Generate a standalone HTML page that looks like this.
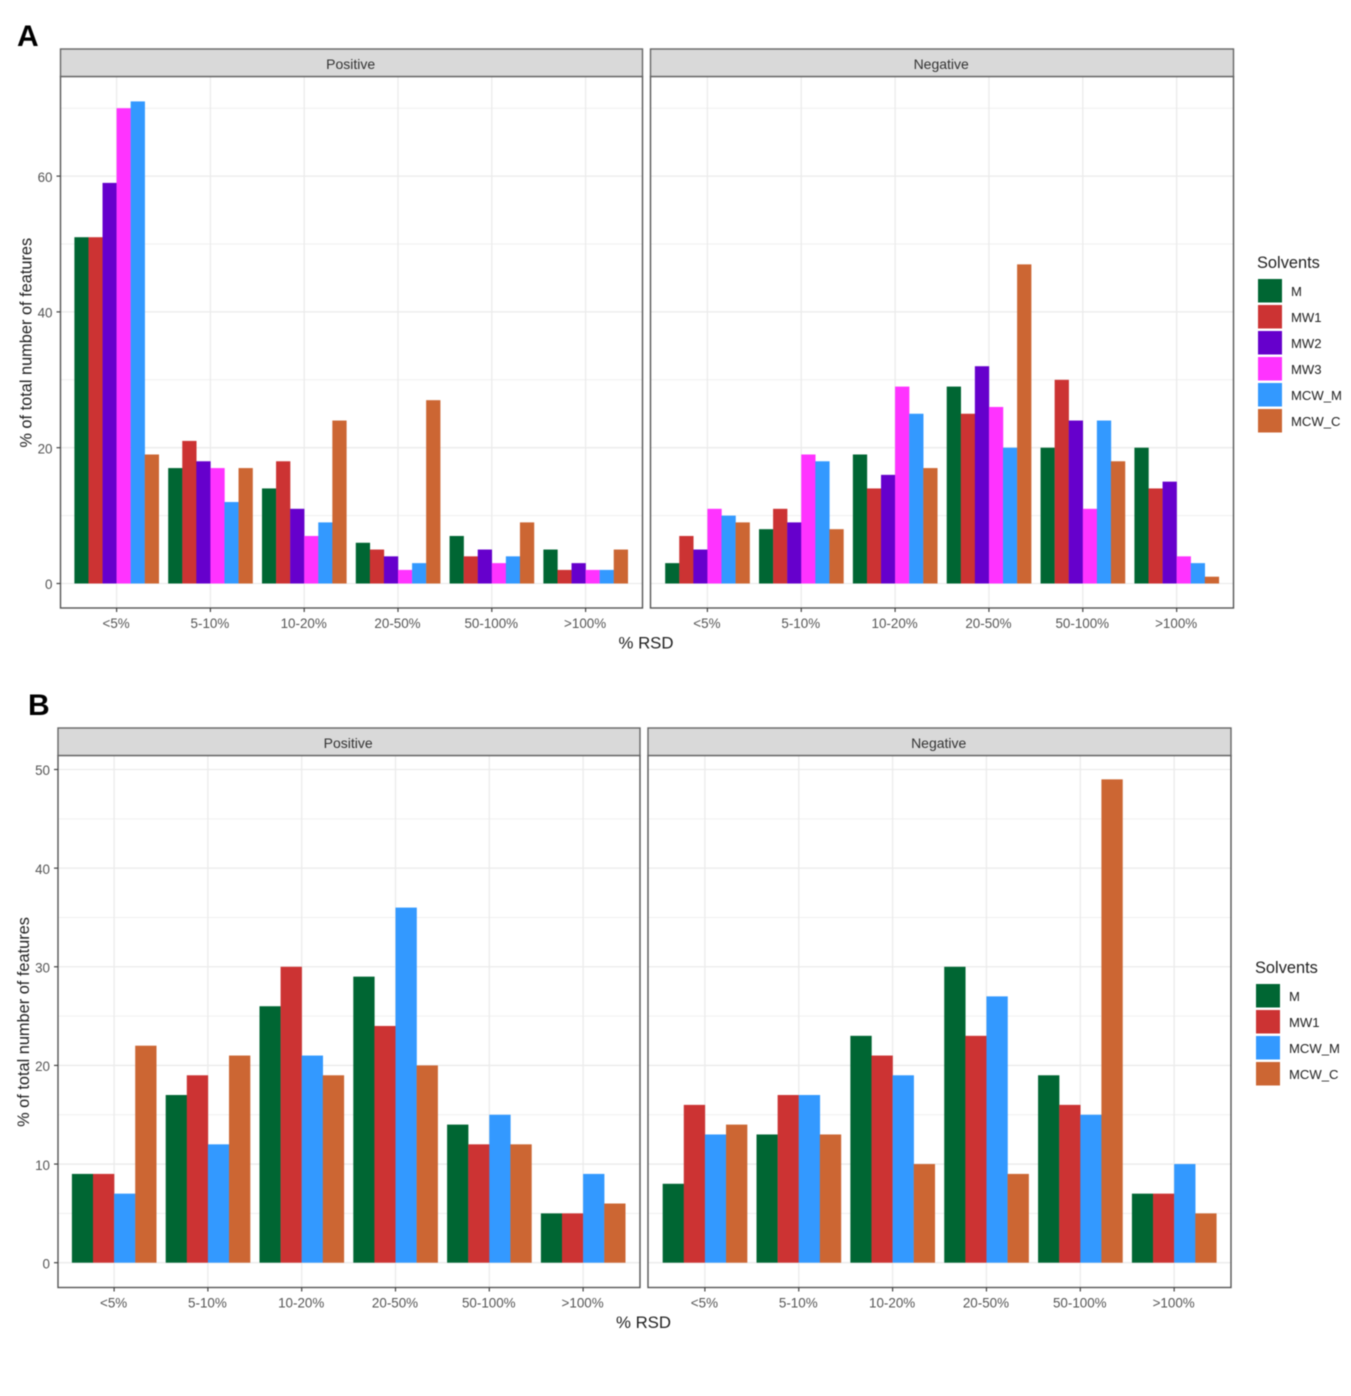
<!DOCTYPE html>
<html lang="en">
<head>
<meta charset="utf-8">
<title>Percent RSD of features by solvent</title>
<style>
html,body{margin:0;padding:0;background:#fff;}
body{width:1351px;height:1396px;overflow:hidden;}
svg{display:block;filter:blur(0.5px);font-family:"Liberation Sans",Arial,sans-serif;}
</style>
</head>
<body>
<svg id="figure" xmlns="http://www.w3.org/2000/svg" width="1351" height="1396" viewBox="0 0 1351 1396"></svg>
<script>
const categories = ['<5%', '5-10%', '10-20%', '20-50%', '50-100%', '>100%'];
const facetNames = ['Positive', 'Negative'];

const solventsA = ['M', 'MW1', 'MW2', 'MW3', 'MCW_M', 'MCW_C'];
const solventsB = ['M', 'MW1', 'MCW_M', 'MCW_C'];

const aPositiveM = [51, 17, 14, 6, 7, 5];
const aPositiveMW1 = [51, 21, 18, 5, 4, 2];
const aPositiveMW2 = [59, 18, 11, 4, 5, 3];
const aPositiveMW3 = [70, 17, 7, 2, 3, 2];
const aPositiveMCWM = [71, 12, 9, 3, 4, 2];
const aPositiveMCWC = [19, 17, 24, 27, 9, 5];

const aNegativeM = [3, 8, 19, 29, 20, 20];
const aNegativeMW1 = [7, 11, 14, 25, 30, 14];
const aNegativeMW2 = [5, 9, 16, 32, 24, 15];
const aNegativeMW3 = [11, 19, 29, 26, 11, 4];
const aNegativeMCWM = [10, 18, 25, 20, 24, 3];
const aNegativeMCWC = [9, 8, 17, 47, 18, 1];

const bPositiveM = [9, 17, 26, 29, 14, 5];
const bPositiveMW1 = [9, 19, 30, 24, 12, 5];
const bPositiveMCWM = [7, 12, 21, 36, 15, 9];
const bPositiveMCWC = [22, 21, 19, 20, 12, 6];

const bNegativeM = [8, 13, 23, 30, 19, 7];
const bNegativeMW1 = [16, 17, 21, 23, 16, 7];
const bNegativeMCWM = [13, 17, 19, 27, 15, 10];
const bNegativeMCWC = [14, 13, 10, 9, 49, 5];

const yMajorTicksA = [0, 20, 40, 60];
const yMinorTicksA = [10, 30, 50, 70];
const yMajorTicksB = [0, 10, 20, 30, 40, 50];
const yMinorTicksB = [5, 15, 25, 35, 45];

const colorBySolvent = {M:'#006633', MW1:'#CC3333', MW2:'#6600CC', MW3:'#FF33FF', MCW_M:'#3399FF', MCW_C:'#CC6633'};

const svgNS = 'http://www.w3.org/2000/svg';
const root = document.getElementById('figure');

function make(tag, attrs, parent, text) {
  const el = document.createElementNS(svgNS, tag);
  for (const k in attrs) el.setAttribute(k, attrs[k]);
  if (text !== undefined) el.textContent = text;
  (parent || root).appendChild(el);
  return el;
}

function drawPanel(parent, facet, series, solvents, layout, majors, minors) {
  const g = make('g', {}, parent);
  
  

  const left = layout.left, right = layout.right, top = layout.top, bottom = layout.bottom;
  const step = layout.step;
  const xScale = i => layout.firstX + step * i;
  const yScale = v => layout.zeroY - v * layout.unit;

  make('rect', {x:left, y:top, width:right-left, height:bottom-top, fill:'#fff'}, g);

  minors.forEach(function (v) {
    const line = make('line', {x1:left, x2:right, y1:yScale(v), y2:yScale(v), stroke:'#f0f0f0', 'stroke-width':1}, g);
    
    
  });
  majors.forEach(function (v) {
    const line = make('line', {x1:left, x2:right, y1:yScale(v), y2:yScale(v), stroke:'#ebebeb', 'stroke-width':1.3}, g);
    
    
  });
  categories.forEach(function (c, i) {
    const line = make('line', {x1:xScale(i), x2:xScale(i), y1:top, y2:bottom, stroke:'#ebebeb', 'stroke-width':1.3}, g);
    
    
  });

  const groupWidth = step * 0.9;
  const barWidth = groupWidth / solvents.length;
  solvents.forEach(function (name, s) {
    series[s].forEach(function (v, i) {
      const x = xScale(i) - groupWidth / 2 + barWidth * s;
      const bar = make('rect', {x:x, y:yScale(v), width:barWidth + 0.2, height:layout.zeroY - yScale(v), fill:colorBySolvent[name]}, g);
      
      
    });
  });

  const border = make('rect', {x:left, y:top, width:right-left, height:bottom-top, fill:'none', stroke:'#555', 'stroke-width':1.4}, g);
  
  

  const strip = make('rect', {x:left, y:layout.stripTop, width:right-left, height:top-layout.stripTop, fill:'#d9d9d9', stroke:'#666', 'stroke-width':1.4}, g);
  
  
  const stripLabel = make('text', {x:(left+right)/2-0.8, y:layout.stripTop+20, 'text-anchor':'middle', 'font-size':14, fill:'#333'}, g, facet);
  
  

  categories.forEach(function (c, i) {
    make('line', {x1:xScale(i), x2:xScale(i), y1:bottom, y2:bottom+4, stroke:'#444', 'stroke-width':1.2}, g);
    const label = make('text', {x:xScale(i)-0.5, y:bottom+20, 'text-anchor':'middle', 'font-size':13.4, fill:'#555'}, g, c);
    
    
  });

  if (layout.showY) {
    majors.forEach(function (v) {
      make('line', {x1:left-4, x2:left, y1:yScale(v), y2:yScale(v), stroke:'#444', 'stroke-width':1.2}, g);
      const label = make('text', {x:left-8, y:yScale(v)+5.7, 'text-anchor':'end', 'font-size':13.4, fill:'#555'}, g, String(v));
      
      
    });
  }
}

function drawLegend(parent, solvents, x, titleY) {
  const g = make('g', {}, parent);
  
  
  const title = make('text', {x:x-1, y:titleY, 'font-size':16.4, fill:'#222'}, g, 'Solvents');
  
  
  solvents.forEach(function (name, i) {
    const keyY = titleY + 11 + 26 * i;
    const key = make('rect', {x:x, y:keyY, width:24, height:23.5, fill:colorBySolvent[name]}, g);
    
    
    const label = make('text', {x:x+33, y:keyY+17, 'font-size':13.1, fill:'#222'}, g, name);
    
    
  });
}

function drawPlot(name, letter, letterX, letterY, solvents, seriesPositive, seriesNegative, base, majors, minors, legendX, legendY) {
  const g = make('g', {});
  
  

  const tag = make('text', {x:letterX, y:letterY, 'font-size':30, 'font-weight':'bold', fill:'#000'}, g, letter);
  
  

  drawPanel(g, facetNames[0], seriesPositive, solvents,
    {left:base.x, right:base.x+582, top:base.top, bottom:base.bottom, stripTop:base.stripTop, firstX:base.x+56.1, step:93.8, zeroY:base.zeroY, unit:base.unit, showY:true},
    majors, minors);
  drawPanel(g, facetNames[1], seriesNegative, solvents,
    {left:base.x+590, right:base.x+1173, top:base.top, bottom:base.bottom, stripTop:base.stripTop, firstX:base.x+646.9, step:93.85, zeroY:base.zeroY, unit:base.unit, showY:false},
    majors, minors);

  const xTitle = make('text', {x:base.x+585.5, y:base.bottom+40.5, 'text-anchor':'middle', 'font-size':16.8, fill:'#222'}, g, '% RSD');
  
  

  const yx = base.x - 29, yy = (base.top + base.bottom) / 2 + 0.5;
  const yTitle = make('text', {x:yx, y:yy, 'text-anchor':'middle', 'font-size':16.35, fill:'#222', transform:'rotate(-90 ' + yx + ' ' + yy + ')'}, g, '% of total number of features');
  
  

  drawLegend(g, solvents, legendX, legendY);
}

drawPlot('plot-a', 'A', 17, 46, solventsA,
  [aPositiveM, aPositiveMW1, aPositiveMW2, aPositiveMW3, aPositiveMCWM, aPositiveMCWC],
  [aNegativeM, aNegativeMW1, aNegativeMW2, aNegativeMW3, aNegativeMCWM, aNegativeMCWC],
  {x:60.5, top:76.5, bottom:608, stripTop:49, zeroY:583.5, unit:6.79},
  yMajorTicksA, yMinorTicksA, 1258, 268);

drawPlot('plot-b', 'B', 28, 715, solventsB,
  [bPositiveM, bPositiveMW1, bPositiveMCWM, bPositiveMCWC],
  [bNegativeM, bNegativeMW1, bNegativeMCWM, bNegativeMCWC],
  {x:58, top:755.5, bottom:1287.5, stripTop:728, zeroY:1262.7, unit:9.864},
  yMajorTicksB, yMinorTicksB, 1256, 973);
</script>
</body>
</html>
